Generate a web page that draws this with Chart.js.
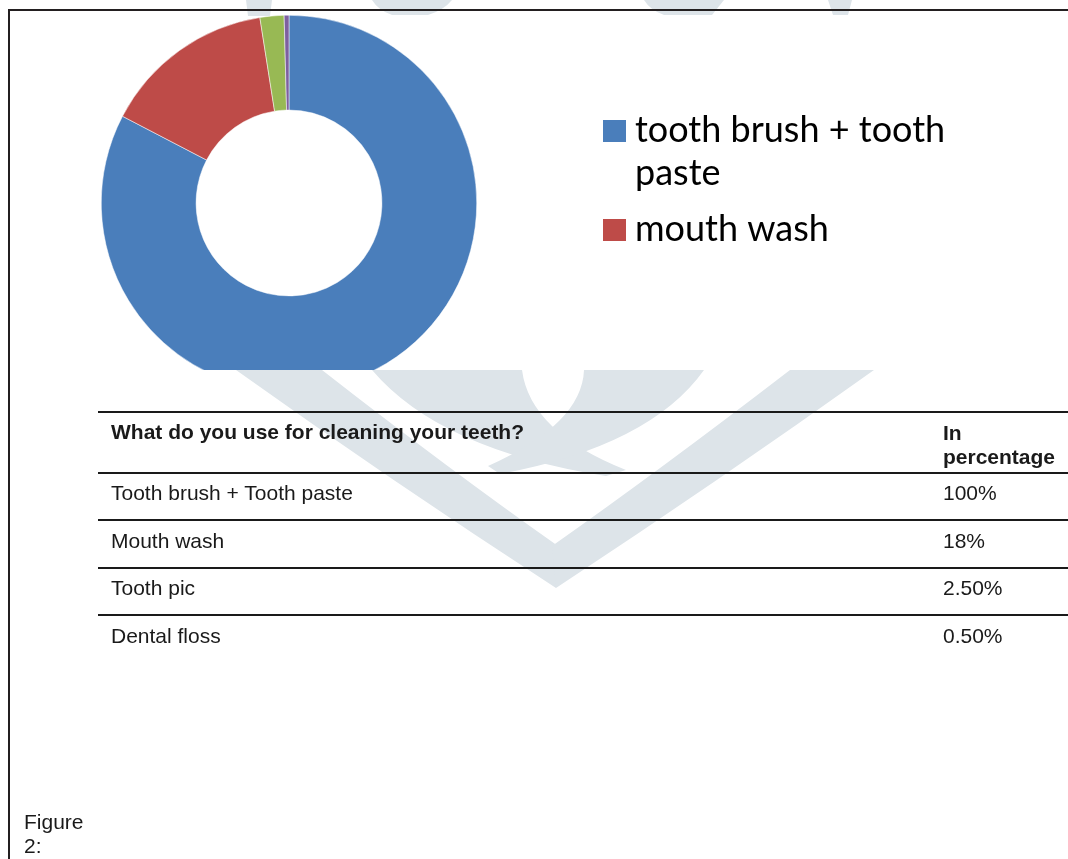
<!DOCTYPE html>
<html>
<head>
<meta charset="utf-8">
<script src="https://cdn.jsdelivr.net/npm/chart.js@4.4.1/dist/chart.umd.min.js"></script>
<style>
  html, body { margin: 0; padding: 0; background: #fff; }
  #page { position: relative; width: 1068px; height: 859px; overflow: hidden; font-family: "Liberation Sans", Arial, sans-serif; color: #1a1a1a; }
  #mark { position: absolute; left: 0; top: 0; }
  #frame { position: absolute; left: 8px; top: 9px; width: 1100px; height: 900px; border-top: 2px solid #231f20; border-left: 2px solid #231f20; }
  #chartBox { position: absolute; left: 0; top: 0; width: 1068px; height: 370px; overflow: hidden; }
  #usage { position: absolute; left: 98px; top: 411px; width: 970px; }
  .row { position: relative; border-top: 2.5px solid #1a1a1a; box-sizing: border-box; font-size: 21px; }
  .row span { position: absolute; white-space: nowrap; line-height: 24px; }
  .row .name { left: 13px; }
  .row .pct { left: 845px; }
  .head { font-weight: bold; }
  #caption { position: absolute; left: 24px; top: 810px; font-size: 21px; line-height: 24px; }
</style>
</head>
<body>
<div id="page">
  <canvas id="mark" width="1068" height="859"></canvas>
  <div id="frame"></div>
  <div id="chartBox"><canvas id="cleaning" width="1068" height="400"></canvas></div>
  <div id="usage"></div>
  <div id="caption">Figure<br>2:</div>
</div>
<script>
const categories = ["Tooth brush + Tooth paste", "Mouth wash", "Tooth pic", "Dental floss"];
const legendLabels = ["tooth brush + tooth paste", "mouth wash", "tooth pic", "dental floss"];
const percentages = [100, 18, 2.5, 0.5];
const percentText = ["100%", "18%", "2.50%", "0.50%"];
const tableHeader = ["What do you use for cleaning your teeth?", "In percentage"];
const sliceColors = ["#4a7ebb", "#be4b48", "#98b954", "#7d60a0"];

// only the first two entries fit in the legend box
const legendShown = 2;

// faint journal logo behind the page
(function drawMark() {
  const g = document.getElementById('mark').getContext('2d');
  g.fillStyle = '#dde4e9';
  const shape = pts => {
    g.beginPath();
    g.moveTo(pts[0][0], pts[0][1]);
    for (let i = 1; i < pts.length; i++) {
      const p = pts[i];
      if (p.length === 4) g.quadraticCurveTo(p[0], p[1], p[2], p[3]);
      else g.lineTo(p[0], p[1]);
    }
    g.closePath();
    g.fill();
  };
  // bits of lettering along the top edge
  shape([[246, 0], [272, 0], [270, 16], [248, 16]]);
  shape([[372, 0], [452, 0], [444, 10, 428, 15], [392, 15], [378, 10, 372, 0]]);
  shape([[644, 0], [724, 0], [712, 15], [664, 15], [650, 10, 644, 0]]);
  shape([[828, 0], [852, 0], [848, 15], [833, 15]]);
  // heart-shaped V
  shape([[236, 370], [322, 370], [450, 470, 558, 546], [556, 588], [390, 480, 236, 370]]);
  shape([[874, 370], [790, 370], [660, 470, 552, 546], [556, 588], [720, 480, 874, 370]]);
  // two crossing leaves
  shape([[372, 370], [522, 370], [530, 432, 626, 470], [606, 476], [440, 450, 372, 370]]);
  shape([[584, 370], [704, 370], [650, 446, 500, 474], [488, 466], [582, 424, 584, 370]]);
})();

const sideLegend = {
  id: 'sideLegend',
  afterDraw(chart) {
    const ctx = chart.ctx;
    const x = 603, textX = 635, maxWidth = 340;
    let baseline = 142;
    ctx.save();
    ctx.font = '36px Lato';
    ctx.textBaseline = 'alphabetic';
    for (let i = 0; i < legendShown; i++) {
      const words = chart.data.labels[i].split(' ');
      const lines = [];
      let line = '';
      words.forEach(w => {
        const test = line ? line + ' ' + w : w;
        if (ctx.measureText(test).width > maxWidth && line) {
          lines.push(line);
          line = w;
        } else {
          line = test;
        }
      });
      lines.push(line);

      ctx.fillStyle = chart.data.datasets[0].backgroundColor[i];
      ctx.fillRect(x, baseline - 22, 23, 22);
      ctx.fillStyle = '#000';
      lines.forEach((l, j) => ctx.fillText(l, textX, baseline + j * 43));
      baseline += (lines.length - 1) * 43 + 56;
    }
    ctx.restore();
  }
};

new Chart(document.getElementById('cleaning'), {
  type: 'doughnut',
  data: {
    labels: legendLabels,
    datasets: [{
      data: percentages,
      backgroundColor: sliceColors,
      borderColor: '#fff',
      borderWidth: 0.5
    }]
  },
  options: {
    responsive: false,
    animation: false,
    devicePixelRatio: 1,
    cutout: '49.5%',
    layout: { padding: { left: 101, top: 15, right: 591, bottom: 9 } },
    plugins: {
      legend: { display: false },
      tooltip: { enabled: false }
    }
  },
  plugins: [sideLegend]
});

// table under the chart
const usage = document.getElementById('usage');
const rowHeights = [60.5, 47.5, 47.5, 47.5, 47.5];
function addRow(cells, h, cls, offsets) {
  const row = document.createElement('div');
  row.className = 'row' + (cls ? ' ' + cls : '');
  row.style.height = h + 'px';
  cells.forEach((c, k) => {
    const s = document.createElement('span');
    s.className = k === 0 ? 'name' : 'pct';
    s.innerHTML = c;
    s.style.top = offsets[k] + 'px';
    row.appendChild(s);
  });
  usage.appendChild(row);
}
addRow([tableHeader[0], tableHeader[1].replace(' ', '<br>')], rowHeights[0], 'head', [7, 8]);
categories.forEach((c, i) => addRow([c, percentText[i]], rowHeights[i + 1], '', [7.5, 7.5]));
</script>
</body>
</html>
